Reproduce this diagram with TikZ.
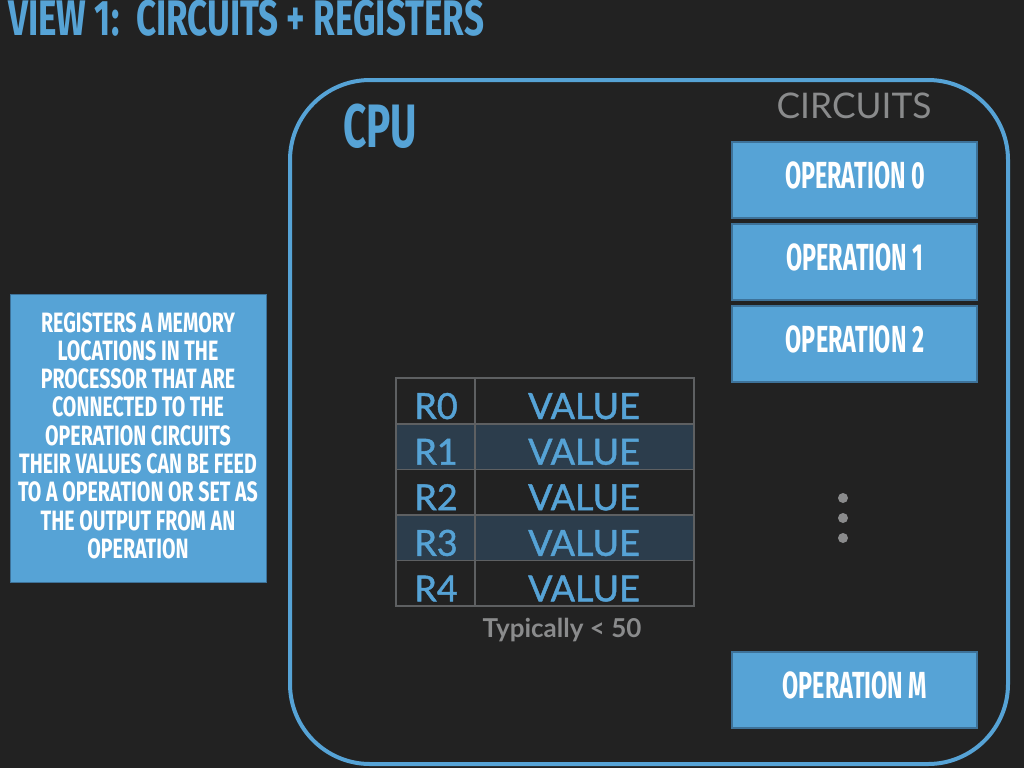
\documentclass[tikz,border=0pt]{standalone}
\usepackage{fontspec}
\newfontfamily\din[FakeStretch=0.62]{Fira Sans}
\newfontfamily\dinb[FakeStretch=0.66]{Fira Sans}
\newfontfamily\dinc[FakeStretch=0.70]{Fira Sans}
\newfontfamily\av{Lato}
\newfontfamily\avm[FakeBold=1.2]{Lato}
\definecolor{bg}{HTML}{222222}
\definecolor{cblue}{HTML}{56A3D6}
\definecolor{cborder}{HTML}{3E7299}
\definecolor{cgray}{HTML}{8A8B8C}
\definecolor{rowfill}{HTML}{2C3D4C}
\definecolor{grid}{HTML}{5E6062}
\tikzset{
  opbox/.style={draw=cborder, line width=0.8pt, fill=cblue, minimum width=245*0.75pt, minimum height=76*0.75pt, inner sep=0pt},
  optext/.style={anchor=base, text=white, inner sep=0pt, font=\din\bfseries\fontsize{28.3}{30}\selectfont},
  cellk/.style={draw=grid, line width=1.2pt, minimum width=79*0.75pt, minimum height=45.6*0.75pt, inner sep=0pt},
  cellv/.style={draw=grid, line width=1.2pt, minimum width=219*0.75pt, minimum height=45.6*0.75pt, inner sep=0pt},
  regtext/.style={anchor=base, text=cblue, inner sep=0pt, font=\avm\fontsize{27}{30}\selectfont},
  dotc/.style={circle, fill=cgray, minimum size=10*0.75pt, inner sep=0pt},
}
\begin{document}
\begin{tikzpicture}[x=0.75pt,y=-0.75pt]
\fill[bg] (0,0) rectangle (1024,768);
\useasboundingbox (0,0) rectangle (1024,768);

% title
\node[anchor=base west, inner sep=0pt, text=cblue, font=\dinc\bfseries\fontsize{37.5}{40}\selectfont] (title) at (8,35) {VIEW 1:\ \ CIRCUITS + REGISTERS};

% CPU box
\draw[cblue, line width=3pt, rounded corners=60pt] (290,80) rectangle (1008,764);
\node[anchor=base west, inner sep=0pt, text=cblue, font=\dinb\bfseries\fontsize{46}{50}\selectfont] (cpu) at (343,147) {CPU};

% circuits
\node[anchor=base, inner sep=0pt, text=cgray, font=\av\fontsize{26.5}{30}\selectfont] (circ) at (854,118) {CIRCUITS};

\node[opbox] (op0) at (854.5,180) {};
\node[opbox] (op1) at (854.5,262) {};
\node[opbox] (op2) at (854.5,344) {};
\node[opbox] (opm) at (854.5,690) {};
\node[optext] (op0t) at (855,188) {OPERATION 0};
\node[optext] (op1t) at (855,270) {OPERATION 1};
\node[optext] (op2t) at (855,352) {OPERATION 2};
\node[optext] (opmt) at (855,698) {OPERATION M};

\node[dotc] (d1) at (843,498) {};
\node[dotc] (d2) at (843,518) {};
\node[dotc] (d3) at (843,538) {};

% registers table
\foreach \i/\f in {0/bg,1/rowfill,2/bg,3/rowfill,4/bg}{
  \node[cellk, fill=\f] (k\i) at (435.5,{401+45.6*\i}) {};
  \node[cellv, fill=\f] (v\i) at (584.5,{401+45.6*\i}) {};
  \node[regtext] (kt\i) at (436,{419+45.6*\i}) {R\i};
  \node[regtext] (vt\i) at (584,{419+45.6*\i}) {VALUE};
}
\node[anchor=base, inner sep=0pt, text=cgray, font=\av\bfseries\fontsize{19.5}{22}\selectfont] (typ) at (562,637) {Typically < 50};

% left box
\node[fill=cblue, draw=cborder, line width=0.6pt, minimum width=256*0.75pt, minimum height=288*0.75pt, inner sep=0pt] (lbox) at (138,438) {};
\node[anchor=north, inner sep=0pt, text=white, align=center, font=\dinc\bfseries\fontsize{21}{21.2}\selectfont] (ltext) at (138,312)
{REGISTERS A MEMORY\\LOCATIONS IN THE\\PROCESSOR THAT ARE\\CONNECTED TO THE\\OPERATION CIRCUITS\\THEIR VALUES CAN BE FEED\\TO A OPERATION OR SET AS\\THE OUTPUT FROM AN\\OPERATION};
\end{tikzpicture}
\end{document}
